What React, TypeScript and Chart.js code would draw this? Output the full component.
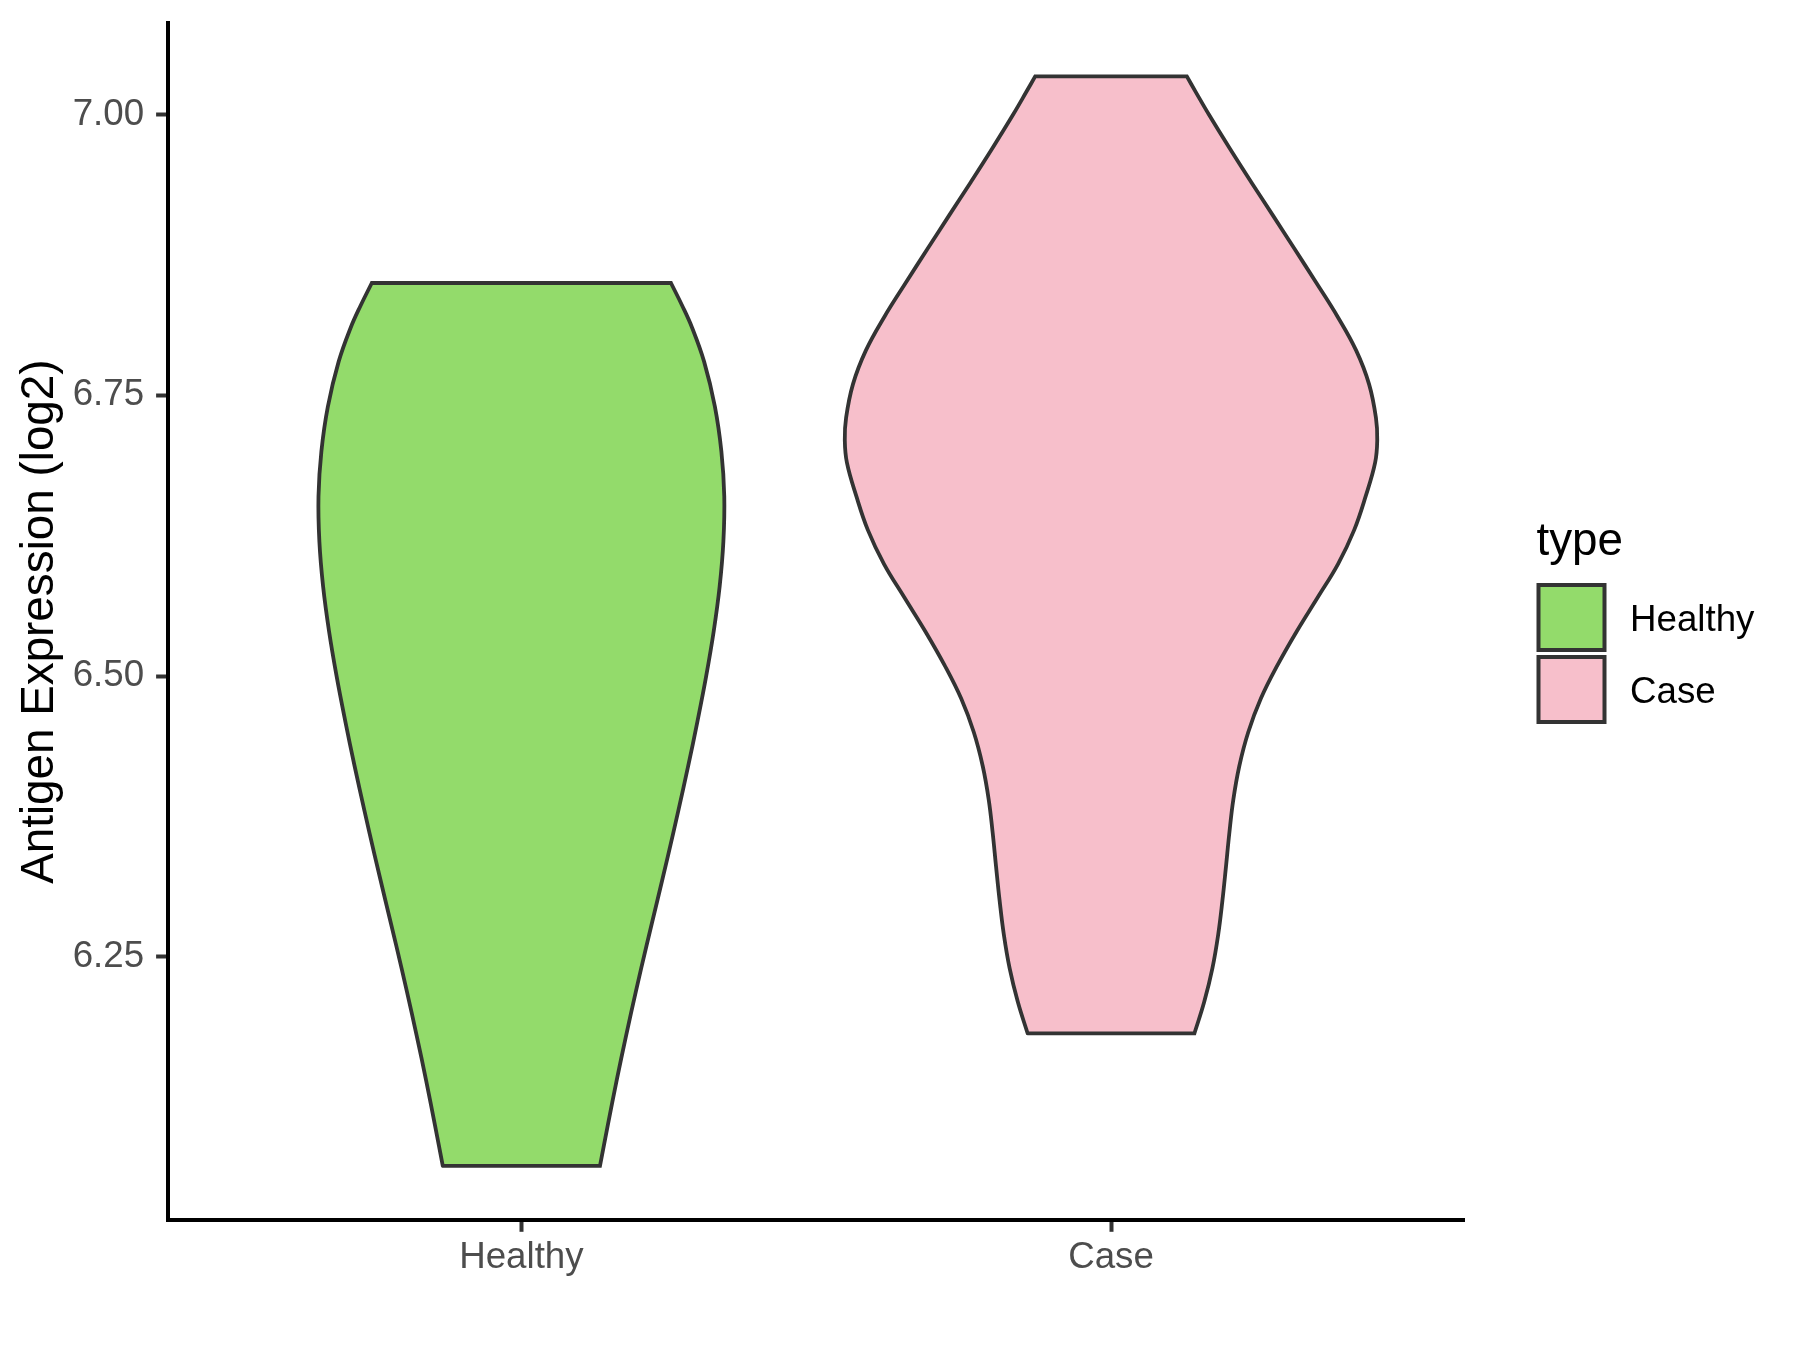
import { useEffect, useRef } from "react";
import { Chart, registerables } from "chart.js";

Chart.register(...registerables);

// ---------- data ----------
const categories = ["Healthy", "Case"];
const categoryPositions = [1, 2];
const fillColors = ["#93DB6B", "#F7BFCB"];
const outlineColor = "#333333";
const yTickValues = [6.25, 6.5, 6.75, 7.0];
const yAxisTitle = "Antigen Expression (log2)";
const legendTitle = "type";

// expression level (bottom -> top) and violin half-width (in category units)
const healthyExpression = [
  6.064, 6.1, 6.14, 6.18, 6.22, 6.26, 6.3, 6.34, 6.38, 6.42, 6.46, 6.5, 6.54, 6.58, 6.62, 6.66,
  6.7, 6.74, 6.78, 6.81, 6.83, 6.85,
];
const healthyHalfWidth = [
  0.1333, 0.1465, 0.1616, 0.1776, 0.1945, 0.2122, 0.2305, 0.2486, 0.2661, 0.2829, 0.2987, 0.3134,
  0.3262, 0.3363, 0.3426, 0.3441, 0.3392, 0.3282, 0.3099, 0.2897, 0.2726, 0.2537,
];
const caseExpression = [
  6.182, 6.21, 6.24, 6.27, 6.3, 6.33, 6.36, 6.39, 6.42, 6.45, 6.48, 6.51, 6.54, 6.57, 6.6, 6.63,
  6.66, 6.69, 6.71, 6.73, 6.76, 6.79, 6.82, 6.85, 6.88, 6.91, 6.94, 6.97, 7.0, 7.02, 7.034,
];
const caseHalfWidth = [
  0.1415, 0.1581, 0.172, 0.1818, 0.1889, 0.1949, 0.2006, 0.2074, 0.2176, 0.2327, 0.2541, 0.2826,
  0.3151, 0.3504, 0.3852, 0.4123, 0.4318, 0.4479, 0.4515, 0.4493, 0.4376, 0.4157, 0.3843, 0.3484,
  0.3117, 0.2748, 0.2376, 0.2012, 0.166, 0.1438, 0.1286,
];

const FONT = "'Liberation Sans', Arial, Helvetica, sans-serif";

function violinOutline(center: number, expr: number[], half: number[]) {
  const n = expr.length;
  const left = expr.map((v, i) => ({ x: center - half[i], y: v }));
  const right = expr.map((v, i) => ({ x: center + half[i], y: v }));
  const pts: { x: number; y: number }[] = [];
  for (let i = 0; i < n; i++) pts.push(left[i]);
  pts.push(left[n - 1]); // sharp corner
  pts.push(right[n - 1]);
  for (let i = n - 1; i >= 0; i--) pts.push(right[i]);
  pts.push(right[0]); // sharp corner
  pts.push(left[0]);
  pts.push(left[0]);
  return pts;
}

const legendPlugin = {
  id: "ggLegend",
  afterDraw(chart: any) {
    const ctx = chart.ctx as CanvasRenderingContext2D;
    ctx.save();
    ctx.fillStyle = "#000000";
    ctx.textAlign = "left";
    ctx.textBaseline = "alphabetic";
    ctx.font = `45.8px ${FONT}`;
    ctx.fillText(legendTitle, 1536.5, 555);
    ctx.font = `36.7px ${FONT}`;
    categories.forEach((name, i) => {
      const top = 585 + i * 72;
      ctx.fillStyle = fillColors[i];
      ctx.fillRect(1538.5, top, 66, 65);
      ctx.strokeStyle = outlineColor;
      ctx.lineWidth = 4;
      ctx.lineJoin = "miter";
      ctx.strokeRect(1538.5, top, 66, 65);
      ctx.fillStyle = "#000000";
      ctx.fillText(name, 1630, top + 46);
    });
    ctx.restore();
  },
};

export default function App() {
  const canvasRef = useRef<HTMLCanvasElement | null>(null);

  useEffect(() => {
    const canvas = canvasRef.current;
    if (!canvas) return;
    Chart.defaults.font.family = FONT;

    const series = [
      { expr: healthyExpression, half: healthyHalfWidth },
      { expr: caseExpression, half: caseHalfWidth },
    ];

    const chart = new Chart(canvas, {
      type: "line",
      data: {
        datasets: series.map((s, i) => ({
          label: categories[i],
          data: violinOutline(categoryPositions[i], s.expr, s.half),
          fill: "shape",
          backgroundColor: fillColors[i],
          borderColor: outlineColor,
          borderWidth: 3.8,
          pointRadius: 0,
          pointHoverRadius: 0,
          tension: 0.4,
          borderJoinStyle: "miter",
          borderCapStyle: "round",
        })),
      } as any,
      options: {
        responsive: false,
        animation: false,
        devicePixelRatio: 1,
        events: [],
        layout: { padding: { top: 23, right: 335.2, left: 0, bottom: 0 } },
        plugins: {
          legend: { display: false },
          tooltip: { enabled: false },
          title: { display: false },
        },
        scales: {
          x: {
            type: "linear",
            min: 0.4,
            max: 2.6,
            afterBuildTicks: (s: any) => {
              s.ticks = categoryPositions.map((v) => ({ value: v }));
            },
            afterFit: (s: any) => {
              s.height = 129.7;
              s.paddingLeft = 0;
              s.paddingRight = 0;
              s.paddingTop = 0;
              s.paddingBottom = 0;
            },
            ticks: {
              callback: (v: any) => {
                const k = categoryPositions.indexOf(Number(v));
                return k >= 0 ? categories[k] : "";
              },
              font: { size: 36.7, family: FONT },
              color: "#4D4D4D",
              padding: 4.5,
              maxRotation: 0,
              autoSkip: false,
            },
            grid: {
              display: true,
              drawOnChartArea: false,
              drawTicks: true,
              tickLength: 11.5,
              tickWidth: 4,
              tickColor: "#333333",
              color: "rgba(0,0,0,0)",
            },
            border: { display: true, color: "#000000", width: 4 },
          },
          y: {
            type: "linear",
            min: 6.0155,
            max: 7.0815,
            afterBuildTicks: (s: any) => {
              s.ticks = yTickValues.map((v) => ({ value: v }));
            },
            afterFit: (s: any) => {
              s.width = 167.6;
              s.paddingLeft = 0;
              s.paddingRight = 0;
              s.paddingTop = 0;
              s.paddingBottom = 0;
            },
            ticks: {
              callback: (v: any) => Number(v).toFixed(2),
              font: { size: 36.7, family: FONT },
              color: "#4D4D4D",
              padding: 12,
              autoSkip: false,
            },
            grid: {
              display: true,
              drawOnChartArea: false,
              drawTicks: true,
              tickLength: 11.5,
              tickWidth: 4,
              tickColor: "#333333",
              color: "rgba(0,0,0,0)",
            },
            border: { display: true, color: "#000000", width: 4 },
            title: {
              display: true,
              text: yAxisTitle,
              color: "#000000",
              font: { size: 45.8, family: FONT },
              padding: { top: 13, bottom: 0 },
            },
          },
        },
      } as any,
      plugins: [legendPlugin],
    });

    return () => chart.destroy();
  }, []);

  return (
    <div
      style={{
        position: "fixed",
        left: 0,
        top: 0,
        width: 1800,
        height: 1350,
        background: "#FFFFFF",
      }}
    >
      <canvas ref={canvasRef} width={1800} height={1350} style={{ display: "block" }} />
    </div>
  );
}
